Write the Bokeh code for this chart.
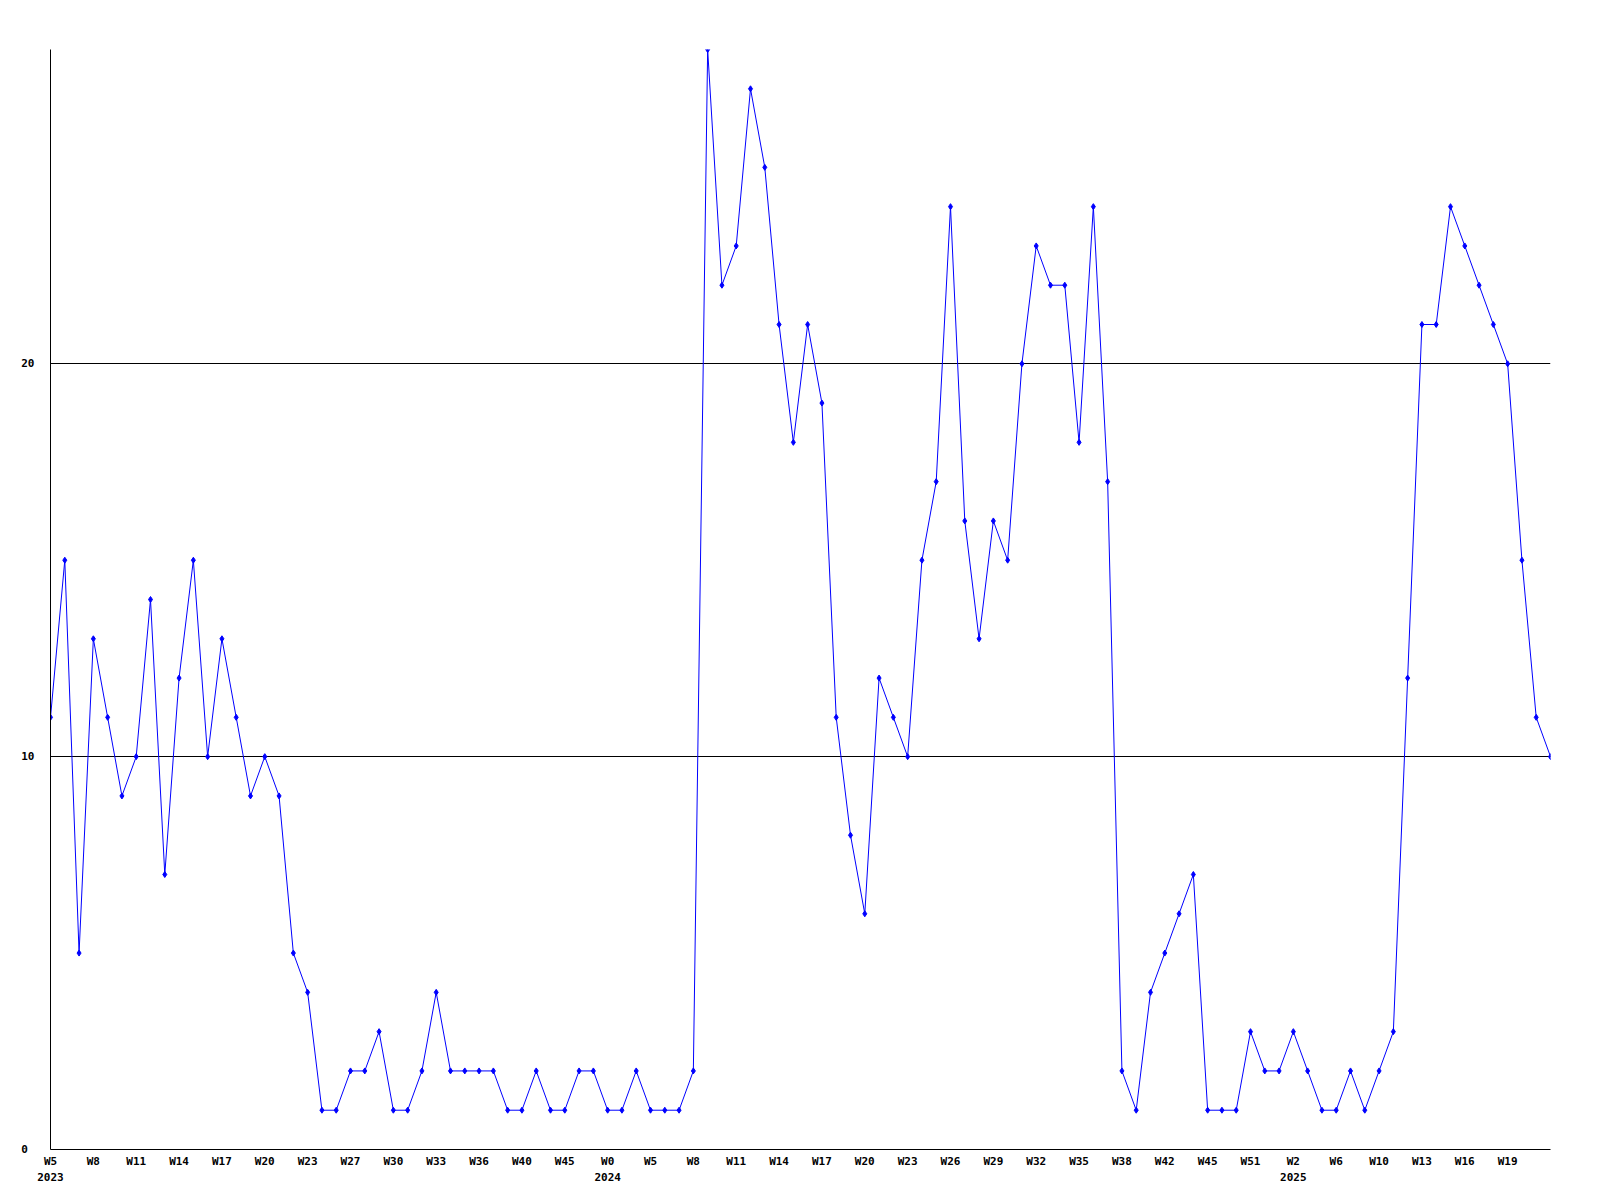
from bokeh.plotting import figure
from bokeh.models import Range1d, FixedTicker
from bokeh.embed import file_html
from bokeh.resources import INLINE

# ---- data ----
values = [11, 15, 5, 13, 11, 9, 10, 14, 7, 12, 15, 10, 13, 11, 9, 10, 9, 5, 4, 1,
          1, 2, 2, 3, 1, 1, 2, 4, 2, 2, 2, 2, 1, 1, 2, 1, 1, 2, 2, 1,
          1, 2, 1, 1, 1, 2, 28, 22, 23, 27, 25, 21, 18, 21, 19, 11, 8, 6, 12, 11,
          10, 15, 17, 24, 16, 13, 16, 15, 20, 23, 22, 22, 18, 24, 17, 2, 1, 4, 5, 6,
          7, 1, 1, 1, 3, 2, 2, 3, 2, 1, 1, 2, 1, 2, 3, 12, 21, 21, 24, 23,
          22, 21, 20, 15, 11, 10]
tick_weeks = ["W5", "W8", "W11", "W14", "W17", "W20", "W23", "W27", "W30", "W33",
              "W36", "W40", "W45", "W0", "W5", "W8", "W11", "W14", "W17", "W20",
              "W23", "W26", "W29", "W32", "W35", "W38", "W42", "W45", "W51", "W2",
              "W6", "W10", "W13", "W16", "W19"]
year_labels = {0: "2023", 13: "2024", 29: "2025"}
y_ticks = [0, 10, 20]
tick_step = 3

xs = list(range(len(values)))
tick_pos = [i * tick_step for i in range(len(tick_weeks))]
x_overrides = {}
for k, (pos, wk) in enumerate(zip(tick_pos, tick_weeks)):
    x_overrides[pos] = wk + ("\n" + year_labels[k] if k in year_labels else "")

p = figure(frame_width=1500, frame_height=1100, output_backend="svg",
           toolbar_location=None,
           x_range=Range1d(0, len(values) - 1), y_range=Range1d(0, 28),
           min_border_left=50, min_border_top=49, min_border_right=20,
           min_border_bottom=38)
p.outline_line_color = None
p.background_fill_color = "white"
p.border_fill_color = "white"

p.line(xs, values, line_color="#0000FF", line_width=1)
p.scatter(xs, values, marker="diamond", size=6, fill_color="#0000FF",
          line_color="#0000FF", line_width=1)

font = "DejaVu Sans Mono"
p.xaxis.ticker = FixedTicker(ticks=tick_pos)
p.xaxis.major_label_overrides = x_overrides
p.yaxis.ticker = FixedTicker(ticks=y_ticks)
p.yaxis.major_label_overrides = {0: "0\u00a0", 10: "10", 20: "20"}
for ax in (p.xaxis, p.yaxis):
    ax.axis_line_color = "black"
    ax.axis_line_width = 1
    ax.major_tick_line_color = None
    ax.minor_tick_line_color = None
    ax.major_tick_out = 0
    ax.major_tick_in = 0
    ax.major_label_text_font = font
    ax.major_label_text_font_style = "bold"
    ax.major_label_text_font_size = "11px"
    ax.major_label_text_color = "black"
p.xaxis.major_label_standoff = 5
p.xaxis.major_label_text_line_height = 1.3
p.yaxis.major_label_standoff = 16

p.xgrid.grid_line_color = None
p.ygrid.ticker = FixedTicker(ticks=[10, 20])
p.ygrid.grid_line_color = "black"
p.ygrid.grid_line_width = 1

open("out.html", "w").write(file_html(p, INLINE))
